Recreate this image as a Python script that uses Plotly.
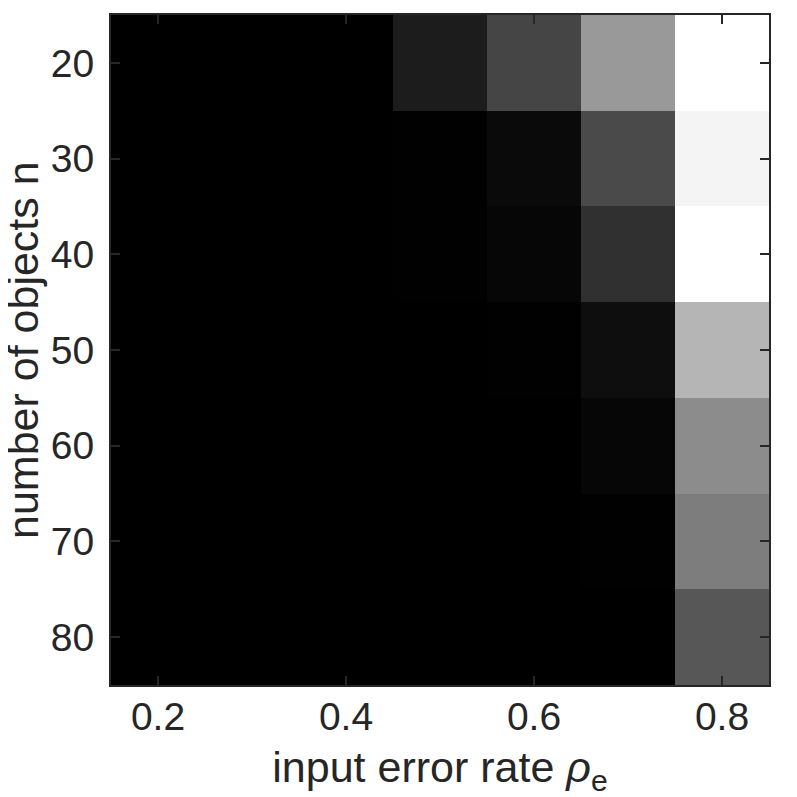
import plotly.graph_objects as go

# grid of the experiment
error_rates = [0.2, 0.3, 0.4, 0.5, 0.6, 0.7, 0.8]
n_objects = [20, 30, 40, 50, 60, 70, 80]

# gray level of each cell (0 = black, 1 = white), one list per n
row_20 = [0.0, 0.0, 0.0, 0.11, 0.27, 0.60, 1.00]
row_30 = [0.0, 0.0, 0.0, 0.005, 0.04, 0.29, 0.955]
row_40 = [0.0, 0.0, 0.0, 0.003, 0.024, 0.19, 1.00]
row_50 = [0.0, 0.0, 0.0, 0.0, 0.002, 0.055, 0.71]
row_60 = [0.0, 0.0, 0.0, 0.0, 0.0, 0.024, 0.55]
row_70 = [0.0, 0.0, 0.0, 0.0, 0.0, 0.002, 0.49]
row_80 = [0.0, 0.0, 0.0, 0.0, 0.0, 0.0, 0.34]

x_ticks = [0.2, 0.4, 0.6, 0.8]
y_ticks = [20, 30, 40, 50, 60, 70, 80]

z = [row_20, row_30, row_40, row_50, row_60, row_70, row_80]

axis_color = "#262626"
font_family = "Liberation Sans, Arial, sans-serif"

fig = go.Figure(
    go.Heatmap(
        x=error_rates,
        y=n_objects,
        z=z,
        zmin=0,
        zmax=1,
        colorscale=[[0, "black"], [1, "white"]],
        showscale=False,
        hoverinfo="skip",
    )
)

common_axis = dict(
    automargin=False,
    showgrid=False,
    zeroline=False,
    showline=True,
    linecolor=axis_color,
    linewidth=2,
    mirror="ticks",
    ticks="inside",
    ticklen=9,
    tickwidth=2,
    tickcolor=axis_color,
    tickfont=dict(family=font_family, size=39, color=axis_color),
    title_font=dict(family=font_family, size=43, color=axis_color),
)

fig.update_xaxes(
    common_axis,
    range=[0.15, 0.85],
    tickvals=x_ticks,
    ticktext=["0.2", "0.4", "0.6", "0.8"],
    ticklabelstandoff=-4,
    title_text="input error rate <i>ρ</i><sub>e</sub>",
)
fig.update_yaxes(
    common_axis,
    range=[85, 15],
    tickvals=y_ticks,
    ticklabelstandoff=7,
)

# y title as an annotation so it can sit further left than plotly puts it
fig.add_annotation(
    text="number of objects n",
    textangle=-90,
    xref="paper",
    yref="paper",
    x=0,
    y=0.5,
    xanchor="center",
    yanchor="middle",
    xshift=-88,
    borderpad=0,
    showarrow=False,
    font=dict(family=font_family, size=43, color=axis_color),
)

# the page body adds ~8px around the plot, so the figure is a bit smaller
fig.update_layout(
    width=789,
    height=789,
    margin=dict(l=103, r=28, t=7, b=112),
    paper_bgcolor="white",
    plot_bgcolor="white",
    font=dict(family=font_family, color=axis_color),
)

fig.write_html("out.html")
